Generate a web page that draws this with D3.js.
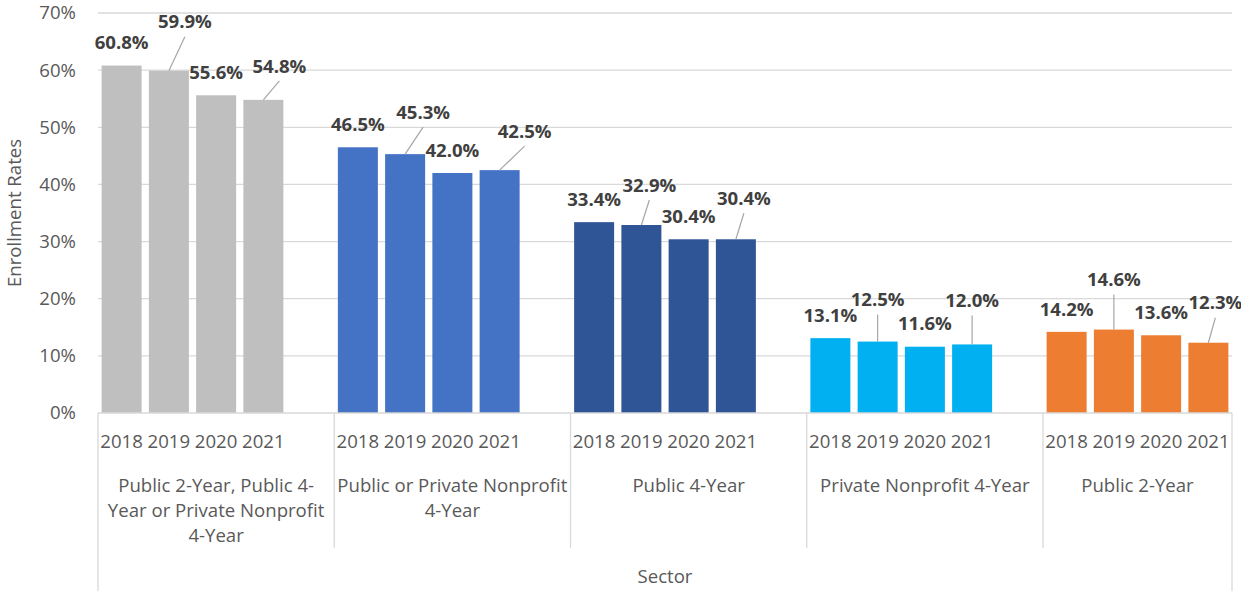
<!DOCTYPE html>
<html>
<head>
<meta charset="utf-8">
<script src="https://cdn.jsdelivr.net/npm/d3@7"></script>
<style>
  html, body { margin: 0; padding: 0; background: #fff; }
  svg { display: block; font-family: "Open Sans", "Noto Sans", sans-serif; }
</style>
</head>
<body>
<svg id="chart" width="1241" height="591"></svg>
<script>
// Enrollment rates by sector and year
const years = ["2018", "2019", "2020", "2021"];
const sectors = [
  "Public 2-Year, Public 4-Year or Private Nonprofit 4-Year",
  "Public or Private Nonprofit 4-Year",
  "Public 4-Year",
  "Private Nonprofit 4-Year",
  "Public 2-Year"
];
// how each sector name wraps under its group
const sectorLines = [
  ["Public 2-Year, Public 4-", "Year or Private Nonprofit", "4-Year"],
  ["Public or Private Nonprofit", "4-Year"],
  ["Public 4-Year"],
  ["Private Nonprofit 4-Year"],
  ["Public 2-Year"]
];
const rates2018 = [60.8, 46.5, 33.4, 13.1, 14.2];
const rates2019 = [59.9, 45.3, 32.9, 12.5, 14.6];
const rates2020 = [55.6, 42.0, 30.4, 11.6, 13.6];
const rates2021 = [54.8, 42.5, 30.4, 12.0, 12.3];
const yTicks = [0, 10, 20, 30, 40, 50, 60, 70];
const axisTitle = "Enrollment Rates";
const outerTitle = "Sector";

const sectorColors = ["#BFBFBF", "#4472C4", "#2F5597", "#00B0F0", "#ED7D31"];

// callout nudges for labels moved off their bars [dx, dy] in px
const labelNudge = [
  [[0, 0], [16, -26], [0, 0], [16, -11]],
  [[0, 0], [18, -19], [0, 0], [25, -16]],
  [[0, 0], [8, -17], [0, 0], [8, -18]],
  [[0, 0], [0, -19], [0, 0], [0, -21]],
  [[0, 0], [0, -27], [0, 0], [7, -17]]
];

const byYear = [rates2018, rates2019, rates2020, rates2021];
const bars = [];
sectors.forEach((s, g) => {
  years.forEach((yr, k) => {
    bars.push({ sector: s, g, k, year: yr, value: byYear[k][g], key: g + "|" + yr });
  });
});

// slot keys: each sector's four years, with an empty slot between sectors
const slots = [];
sectors.forEach((s, g) => {
  years.forEach(yr => slots.push(g + "|" + yr));
  if (g < sectors.length - 1) slots.push(g + "|gap");
});

const svg = d3.select("#chart");
const plotLeft = 98, plotRight = 1232, plotTop = 13, plotBottom = 413;

const x = d3.scaleBand().domain(slots).range([plotLeft, plotRight])
  .paddingInner(0.1534).paddingOuter(0.0767);
const y = d3.scaleLinear().domain([0, 70]).range([plotBottom, plotTop]);
const step = x.step();

const textDark = "#404040";
const textGray = "#595959";
const gridCol = "#D9D9D9";

// gridlines
svg.append("g").selectAll("line").data(yTicks.filter(t => t > 0)).join("line")
  .attr("x1", plotLeft).attr("x2", plotRight)
  .attr("y1", d => y(d)).attr("y2", d => y(d))
  .attr("stroke", gridCol).attr("stroke-width", 1.3);

// y axis tick labels
const yAxis = d3.axisLeft(y).tickValues(yTicks).tickFormat(d => d + "%").tickSize(0).tickPadding(0);
const yg = svg.append("g").attr("transform", `translate(${plotLeft - 22},0)`).call(yAxis);
yg.select(".domain").remove();
yg.selectAll("text").attr("fill", textGray).style("font-size", "18.6px")
  .style("font-family", "'Open Sans', sans-serif");

// y axis title
svg.append("text")
  .attr("transform", `translate(14,${(plotTop + plotBottom) / 2}) rotate(-90)`)
  .attr("text-anchor", "middle").attr("dy", "0.36em")
  .attr("fill", textGray).style("font-size", "18.6px")
  .text(axisTitle);

// bars
svg.append("g").selectAll("rect").data(bars).join("rect")
  .attr("x", d => x(d.key)).attr("width", x.bandwidth())
  .attr("y", d => y(d.value)).attr("height", d => plotBottom - y(d.value))
  .attr("fill", d => sectorColors[d.g]);

// data labels with leader lines
const lab = bars.map(d => {
  const cx = x(d.key) + x.bandwidth() / 2;
  const topY = y(d.value);
  const [dx, dy] = labelNudge[d.g][d.k];
  return { ...d, cx, topY, lx: cx + dx, ly: topY - 23 + dy, moved: dx !== 0 || dy !== 0 };
});
svg.append("g").selectAll("line").data(lab.filter(d => d.moved)).join("line")
  .attr("x1", d => d.cx).attr("y1", d => d.topY)
  .attr("x2", d => d.lx).attr("y2", d => d.ly + 15)
  .attr("stroke", "#A6A6A6").attr("stroke-width", 1.2);
svg.append("g").selectAll("text").data(lab).join("text")
  .attr("x", d => d.lx).attr("y", d => d.ly).attr("dy", "0.36em")
  .attr("text-anchor", "middle").attr("fill", textDark)
  .style("font-size", "18.6px").style("font-weight", "700")
  .text(d => d.value.toFixed(1) + "%");

// category axis: baseline, group dividers, labels
const axisCol = "#D9D9D9";
svg.append("line").attr("x1", plotLeft).attr("x2", plotRight).attr("y1", plotBottom).attr("y2", plotBottom)
  .attr("stroke", axisCol).attr("stroke-width", 1.3);

const groupBounds = sectors.map((s, g) => {
  const first = x(g + "|" + years[0]) - step * 0.0767;
  const last = g < sectors.length - 1 ? first + step * 5 : plotRight;
  return { g, x0: first, x1: last };
});
const divs = [];
groupBounds.forEach((b, i) => { divs.push({ x: b.x0, outer: i === 0 }); });
divs.push({ x: plotRight, outer: true });
svg.append("g").selectAll("line").data(divs).join("line")
  .attr("x1", d => d.x).attr("x2", d => d.x)
  .attr("y1", plotBottom).attr("y2", d => d.outer ? 591 : 548)
  .attr("stroke", axisCol).attr("stroke-width", 1.3);

svg.append("g").selectAll("text").data(bars).join("text")
  .attr("x", d => x(d.key) + x.bandwidth() / 2).attr("y", 448)
  .attr("text-anchor", "middle").attr("fill", textGray)
  .style("font-size", "18.6px")
  .text(d => d.year);

const gl = svg.append("g").selectAll("text").data(groupBounds).join("text")
  .attr("text-anchor", "middle").attr("fill", textGray)
  .style("font-size", "18.6px");
gl.each(function (d) {
  const t = d3.select(this);
  sectorLines[d.g].forEach((line, i) => {
    t.append("tspan").attr("x", (d.x0 + d.x1) / 2).attr("y", 492 + i * 25).text(line);
  });
});

svg.append("text").attr("x", (plotLeft + plotRight) / 2).attr("y", 583)
  .attr("text-anchor", "middle").attr("fill", textGray).style("font-size", "18.6px")
  .text(outerTitle);
</script>
</body>
</html>
